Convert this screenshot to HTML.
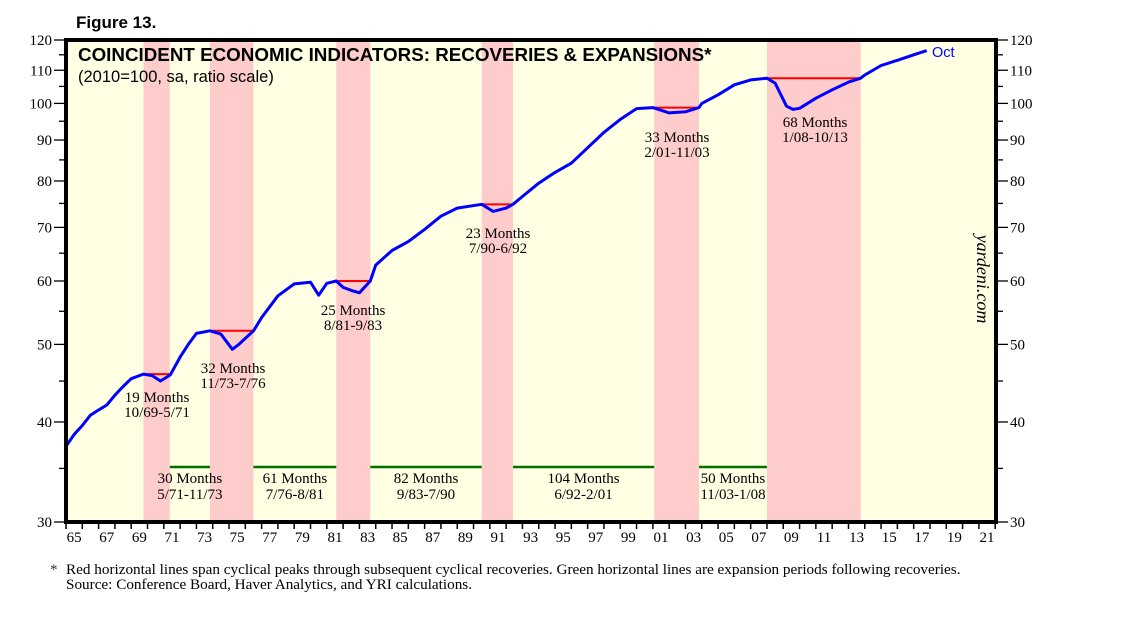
<!DOCTYPE html>
<html><head><meta charset="utf-8"><style>
html,body{margin:0;padding:0;background:#fff;}
svg{display:block;}
</style></head><body>
<svg id="chart" width="1138" height="621" xmlns="http://www.w3.org/2000/svg">
<text x="76" y="28" font-family="Liberation Sans, sans-serif" font-weight="bold" font-size="17">Figure 13.</text>
<rect x="66" y="40" width="930" height="482" fill="#ffffe3"/>
<g id="shades"></g>
<g id="hlines"></g>
<g id="series"></g>
<rect x="66" y="40" width="930" height="482" fill="none" stroke="#000" stroke-width="4"/>
<g id="axes"></g>
<text x="78" y="61" font-family="Liberation Sans, sans-serif" font-weight="bold" font-size="18.8">COINCIDENT ECONOMIC INDICATORS: RECOVERIES &amp; EXPANSIONS*</text>
<text x="78" y="82" font-family="Liberation Sans, sans-serif" font-size="16.5">(2010=100, sa, ratio scale)</text>
<text x="932" y="57" font-family="Liberation Sans, sans-serif" font-size="14.5" fill="#0000ff">Oct</text>
<text transform="translate(977,279) rotate(90)" text-anchor="middle" font-family="Liberation Serif, serif" font-style="italic" font-size="18">yardeni.com</text>
<g id="annots" font-family="Liberation Serif, serif" font-size="15" text-anchor="middle"></g>
<text x="50" y="574" font-family="Liberation Serif, serif" font-size="15" fill="#333">*</text>
<text x="66" y="574" font-family="Liberation Serif, serif" font-size="15.2">Red horizontal lines span cyclical peaks through subsequent cyclical recoveries. Green horizontal lines are expansion periods following recoveries.</text>
<text x="66" y="589" font-family="Liberation Serif, serif" font-size="15.2">Source: Conference Board, Haver Analytics, and YRI calculations.</text>
</svg>
<script>
const years=[1965,1965.5,1966,1966.5,1967,1967.5,1968,1968.5,1969,1969.75,1970.3,1970.8,1971.4,1972,1972.5,1973,1973.83,1974.5,1975.2,1975.6,1976.5,1977,1978,1979,1980,1980.5,1981,1981.58,1982,1982.5,1983,1983.67,1984,1985,1986,1987,1988,1989,1990.5,1991.2,1992,1992.42,1993,1994,1995,1996,1997,1998,1999,2000,2001,2002,2003,2003.83,2004,2005,2006,2007,2008,2008.5,2009.2,2009.6,2010,2011,2012,2013,2013.75,2014,2015,2016,2017,2017.8];
const values=[37.3,38.6,39.6,40.8,41.4,42.0,43.2,44.3,45.3,45.9,45.7,45.0,45.8,48.2,50.0,51.6,52.0,51.5,49.3,50.0,52.0,54.0,57.5,59.5,59.8,57.6,59.6,60.0,58.9,58.4,58.0,60.0,62.8,65.5,67.2,69.6,72.3,74.0,74.8,73.3,74.0,74.8,76.5,79.5,82.0,84.2,88.0,92.0,95.5,98.5,98.8,97.3,97.6,98.8,100,102.5,105.5,107.0,107.5,106,99.2,98.3,98.6,101.5,104,106.3,107.5,108.5,111.5,113.2,115,116.4];
const recStart=[1969.75,1973.83,1981.58,1990.5,2001.08,2008.0];
const recEnd=[1971.37,1976.5,1983.67,1992.42,2003.83,2013.75];
const peakVal=[45.9,52.0,60.0,74.8,98.8,107.5];
const recMonths=["19 Months","32 Months","25 Months","23 Months","33 Months","68 Months"];
const recDates=["10/69-5/71","11/73-7/76","8/81-9/83","7/90-6/92","2/01-11/03","1/08-10/13"];
const expMonths=["30 Months","61 Months","82 Months","104 Months","50 Months"];
const expDates=["5/71-11/73","7/76-8/81","9/83-7/90","6/92-2/01","11/03-1/08"];
const yTicks=[30,40,50,60,70,80,90,100,110,120];
const yMinor=[35,45,55,65,75,85,95,105,115];
const NS='http://www.w3.org/2000/svg';
const X0=66,X1=996,Y0=40,Y1=522,T0=1965,T1=2022.05;
function x(t){return X0+(t-T0)*(X1-X0)/(T1-T0);}
function y(v){return Y1-Math.log(v/30)/Math.log(4)*(Y1-Y0);}
function mk(tag,attrs,parent){const e=document.createElementNS(NS,tag);for(const k in attrs)e.setAttribute(k,attrs[k]);document.getElementById(parent).appendChild(e);return e;}
for(let i=0;i<recStart.length;i++){
 const r=mk('rect',{x:x(recStart[i]),y:Y0,width:x(recEnd[i])-x(recStart[i]),height:Y1-Y0,fill:'#ffcccc'},'shades');
 
 
 const l=mk('line',{x1:x(recStart[i]),x2:x(recEnd[i]),y1:y(peakVal[i]),y2:y(peakVal[i]),stroke:'#ff0000','stroke-width':2},'hlines');
 
 
}
const gy=467;
for(let i=0;i<expMonths.length;i++){
 const a=recEnd[i],b=recStart[i+1];
 const l=mk('line',{x1:x(a),x2:x(b),y1:gy,y2:gy,stroke:'#007000','stroke-width':2.5},'hlines');
 
 
 const cx=(x(a)+x(b))/2;
 const t1=mk('text',{x:cx,y:483},'annots');t1.textContent=expMonths[i];
 
 
 const t2=mk('text',{x:cx,y:499},'annots');t2.textContent=expDates[i];
 
 
}
const recLab=[[157,402],[233,373],[353,315],[498,238],[677,142],[815,127]];
for(let i=0;i<recMonths.length;i++){
 const t1=mk('text',{x:recLab[i][0],y:recLab[i][1]},'annots');t1.textContent=recMonths[i];
 
 
 const t2=mk('text',{x:recLab[i][0],y:recLab[i][1]+15},'annots');t2.textContent=recDates[i];
 
 
}
let d='';for(let i=0;i<years.length;i++)d+=(i?'L':'M')+x(years[i]).toFixed(1)+','+y(values[i]).toFixed(1);
const p=mk('path',{d:d,fill:'none',stroke:'#0000ff','stroke-width':3,'stroke-linejoin':'round'},'series');


for(const v of yTicks){
 const yy=y(v);
 mk('line',{x1:X0-12,x2:X0,y1:yy,y2:yy,stroke:'#000','stroke-width':1.3},'axes');
 mk('line',{x1:X1,x2:X1+12,y1:yy,y2:yy,stroke:'#000','stroke-width':1.3},'axes');
 const a=mk('text',{x:X0-14,y:yy+5,'text-anchor':'end','font-family':'Liberation Serif, serif','font-size':15},'axes');a.textContent=v;
 
 
 const b=mk('text',{x:X1+14,y:yy+5,'font-family':'Liberation Serif, serif','font-size':15},'axes');b.textContent=v;
 
 
}
for(const v of yMinor){
 const yy=y(v);
 mk('line',{x1:X0-7,x2:X0,y1:yy,y2:yy,stroke:'#000','stroke-width':1.3},'axes');
 mk('line',{x1:X1,x2:X1+7,y1:yy,y2:yy,stroke:'#000','stroke-width':1.3},'axes');
}
for(let yr=1965;yr<=2022;yr++){
 const xx=x(yr);
 mk('line',{x1:xx,x2:xx,y1:Y1,y2:Y1+7,stroke:'#000','stroke-width':1.5},'axes');
 if(yr%2===1&&yr<2022){
  const t=mk('text',{x:x(yr+0.5),y:Y1+20,'text-anchor':'middle','font-family':'Liberation Serif, serif','font-size':15},'axes');
  t.textContent=String(yr%100).padStart(2,'0');
  
  
 }
}
</script>
</body></html>
